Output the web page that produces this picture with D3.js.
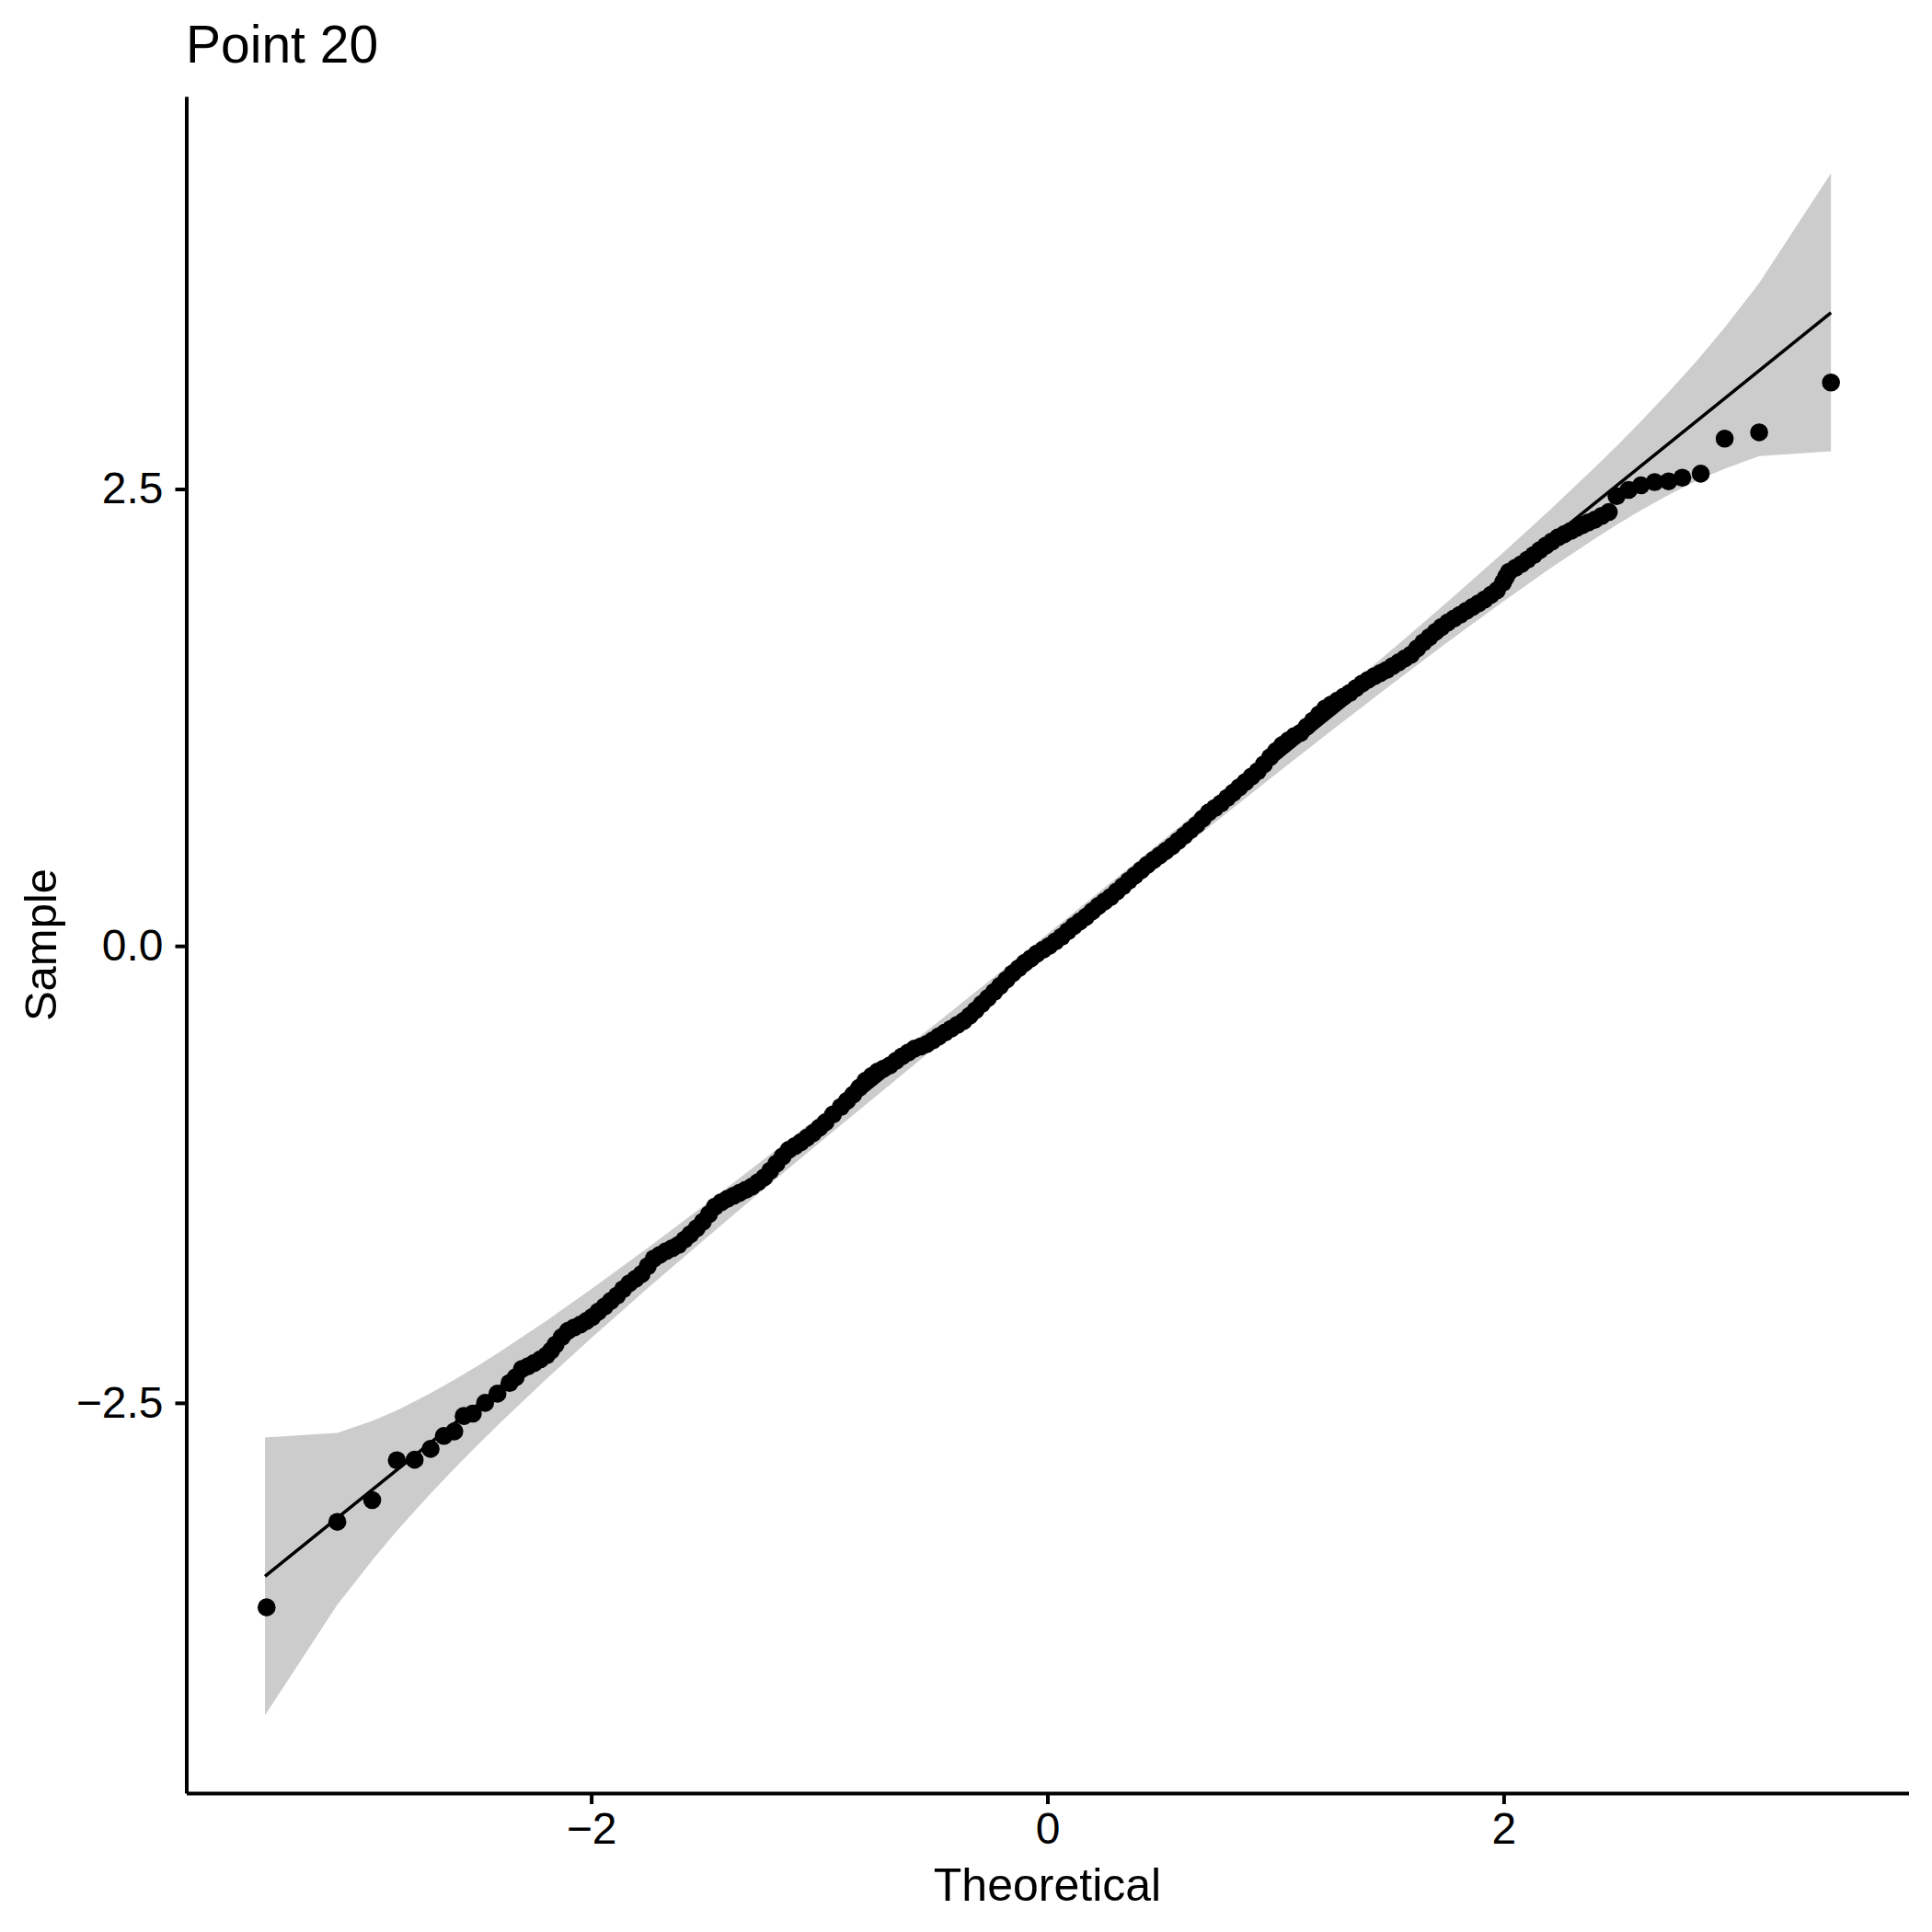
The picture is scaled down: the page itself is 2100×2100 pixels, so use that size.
<!DOCTYPE html>
<html><head><meta charset="utf-8">
<script src="https://cdn.jsdelivr.net/npm/d3@7"></script>
<style>html,body{margin:0;padding:0;background:#fff;} svg{display:block}</style>
</head><body><svg id="chart" width="2100" height="2100"></svg>
<script>
// ---------- data ----------
const title = "Point 20";
const xLabel = "Theoretical";
const yLabel = "Sample";

const theoretical = [
-3.423,-3.113,-2.960,-2.852,-2.774,-2.704,-2.646,-2.600,-2.559,-2.519,
-2.465,-2.411,-2.358,-2.331,-2.304,-2.277,-2.250,-2.223,-2.196,-2.176,
-2.156,-2.129,-2.102,-2.075,-2.048,-2.021,-1.995,-1.968,-1.941,-1.914,
-1.887,-1.860,-1.833,-1.806,-1.779,-1.752,-1.726,-1.699,-1.672,-1.645,
-1.618,-1.591,-1.565,-1.538,-1.511,-1.484,-1.457,-1.430,-1.403,-1.376,
-1.350,-1.323,-1.296,-1.269,-1.242,-1.215,-1.188,-1.161,-1.134,-1.107,
-1.081,-1.054,-1.027,-1.000,-0.973,-0.940,-0.906,-0.879,-0.852,-0.825,
-0.798,-0.771,-0.745,-0.718,-0.691,-0.664,-0.637,-0.610,-0.583,-0.556,
-0.529,-0.502,-0.476,-0.449,-0.422,-0.395,-0.368,-0.341,-0.315,-0.288,
-0.261,-0.234,-0.207,-0.180,-0.153,-0.126,-0.100,-0.073,-0.046,-0.019,
0.008,0.035,0.062,0.089,0.116,0.142,0.169,0.196,0.223,0.250,
0.277,0.304,0.331,0.357,0.384,0.411,0.438,0.465,0.492,0.519,
0.546,0.573,0.600,0.626,0.653,0.680,0.707,0.734,0.761,0.788,
0.815,0.841,0.868,0.895,0.922,0.949,0.976,1.002,1.029,1.056,
1.083,1.110,1.137,1.164,1.191,1.218,1.244,1.271,1.298,1.325,
1.352,1.379,1.406,1.433,1.460,1.487,1.513,1.540,1.567,1.594,
1.621,1.648,1.675,1.702,1.728,1.755,1.782,1.809,1.836,1.863,
1.890,1.917,1.944,1.971,1.997,2.010,2.024,2.051,2.078,2.105,
2.132,2.158,2.185,2.212,2.239,2.266,2.293,2.320,2.347,2.373,
2.400,2.430,2.461,2.495,2.548,2.602,2.662,2.723,2.783,2.864,
2.969,3.120,3.435
];
const sample = [
-3.619,-3.151,-3.032,-2.814,-2.811,-2.752,-2.681,-2.656,-2.572,-2.559,
-2.500,-2.450,-2.391,-2.360,-2.315,-2.300,-2.282,-2.262,-2.240,-2.214,
-2.181,-2.140,-2.106,-2.088,-2.072,-2.052,-2.030,-2.000,-1.972,-1.942,
-1.913,-1.878,-1.846,-1.822,-1.795,-1.752,-1.711,-1.690,-1.670,-1.654,
-1.636,-1.607,-1.577,-1.545,-1.510,-1.468,-1.426,-1.402,-1.384,-1.367,
-1.351,-1.335,-1.317,-1.293,-1.267,-1.230,-1.191,-1.152,-1.116,-1.095,
-1.074,-1.049,-1.024,-0.995,-0.965,-0.922,-0.881,-0.848,-0.814,-0.776,
-0.738,-0.712,-0.688,-0.671,-0.654,-0.629,-0.604,-0.583,-0.562,-0.550,
-0.537,-0.516,-0.495,-0.474,-0.453,-0.432,-0.411,-0.382,-0.352,-0.318,
-0.285,-0.252,-0.218,-0.185,-0.151,-0.122,-0.093,-0.068,-0.042,-0.021,
0.000,0.025,0.050,0.080,0.109,0.134,0.159,0.189,0.218,0.243,
0.268,0.298,0.327,0.357,0.386,0.415,0.444,0.470,0.495,0.520,
0.545,0.575,0.604,0.633,0.662,0.696,0.730,0.755,0.780,0.810,
0.839,0.868,0.897,0.927,0.956,0.994,1.032,1.066,1.099,1.124,
1.149,1.166,1.200,1.233,1.267,1.300,1.321,1.342,1.363,1.384,
1.410,1.435,1.456,1.476,1.493,1.510,1.531,1.552,1.573,1.594,
1.628,1.661,1.690,1.719,1.745,1.770,1.791,1.812,1.833,1.854,
1.875,1.896,1.921,1.946,1.988,2.018,2.047,2.068,2.089,2.114,
2.139,2.165,2.190,2.213,2.236,2.253,2.270,2.287,2.303,2.318,
2.332,2.353,2.374,2.461,2.495,2.520,2.538,2.542,2.562,2.584,
2.776,2.810,3.083
];

const bandX = [-3.43,-3.113,-2.96,-2.852,-2.774,-2.704,-2.6,-2.5,-2.4,-2.2,-2.0,-1.75,-1.5,-1.25,-1.0,-0.5,0,
  0.5,1.0,1.25,1.5,1.75,2.0,2.2,2.4,2.5,2.6,2.704,2.774,2.852,2.969,3.12,3.435];
const bandUpper = [-2.69,-2.664,-2.599,-2.541,-2.492,-2.447,-2.374,-2.299,-2.220,-2.054,-1.878,-1.650,-1.415,-1.174,-0.931,-0.436,0.065,
  0.572,1.085,1.346,1.610,1.878,2.154,2.382,2.618,2.741,2.868,3.005,3.100,3.209,3.383,3.626,4.228];
const bandLower = [-4.21,-3.604,-3.361,-3.201,-3.092,-2.997,-2.860,-2.733,-2.610,-2.374,-2.146,-1.870,-1.602,-1.338,-1.077,-0.564,-0.057,
  0.444,0.939,1.182,1.423,1.658,1.886,2.062,2.228,2.307,2.382,2.455,2.500,2.549,2.611,2.680,2.706];

const lineX = [-3.43, 3.435];
const lineY = [-3.449, 3.465];

const xTicks = [-2, 0, 2];
const yTicks = [-2.5, 0, 2.5];

// ---------- drawing ----------
const FONT = "'Liberation Sans', Arial, Helvetica, sans-serif";
const svg = d3.select("#chart");
const x = d3.scaleLinear().domain([-3.775, 3.775]).range([202.5, 2074.5]);
const y = d3.scaleLinear().domain([-4.635, 4.648]).range([1949, 104.8]);

// confidence band
const band = bandX.map((v, i) => ({x: v, lo: bandLower[i], hi: bandUpper[i]}));
svg.append("path")
  .datum(band)
  .attr("fill", "#cccccc")
  .attr("stroke", "none")
  .attr("d", d3.area().x(d => x(d.x)).y0(d => y(d.lo)).y1(d => y(d.hi)));

// reference line
svg.append("path")
  .datum(lineX.map((v, i) => [v, lineY[i]]))
  .attr("fill", "none")
  .attr("stroke", "#000")
  .attr("stroke-width", 3.5)
  .attr("d", d3.line().x(d => x(d[0])).y(d => y(d[1])));

// points
svg.append("g").selectAll("circle")
  .data(theoretical.map((v, i) => [v, sample[i]]))
  .join("circle")
  .attr("cx", d => x(d[0]))
  .attr("cy", d => y(d[1]))
  .attr("r", 9.8)
  .attr("fill", "#000");

// axes
const xAxis = svg.append("g")
  .attr("transform", "translate(0,1949)")
  .call(d3.axisBottom(x).tickValues(xTicks).tickFormat(d3.format("d")).tickSize(12).tickSizeOuter(0).tickPadding(9));
const yAxis = svg.append("g")
  .attr("transform", "translate(202.5,0)")
  .call(d3.axisLeft(y).tickValues(yTicks).tickFormat(d3.format(".1f")).tickSize(12).tickSizeOuter(0).tickPadding(13));

[xAxis, yAxis].forEach(g => {
  g.select(".domain").attr("stroke", "#000").attr("stroke-width", 4);
  g.selectAll(".tick line").attr("stroke", "#000").attr("stroke-width", 4);
  g.selectAll(".tick text").attr("fill", "#000").style("font-size", "48px").style("font-family", FONT);
});

// titles
svg.append("text")
  .attr("x", 202).attr("y", 68)
  .style("font-size", "57px").style("font-family", FONT).attr("fill", "#000")
  .text(title);

svg.append("text")
  .attr("x", 1138.5).attr("y", 2066)
  .attr("text-anchor", "middle")
  .style("font-size", "50px").style("font-family", FONT).attr("fill", "#000")
  .text(xLabel);

svg.append("text")
  .attr("transform", "translate(61,1027) rotate(-90)")
  .attr("text-anchor", "middle")
  .style("font-size", "49px").style("font-family", FONT).attr("fill", "#000")
  .text(yLabel);
</script>
</body></html>
